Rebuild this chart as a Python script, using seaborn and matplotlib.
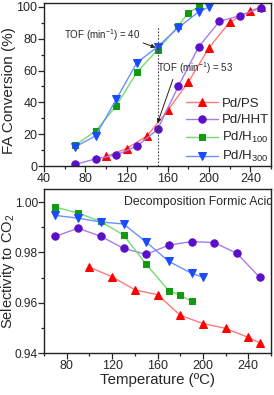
import pandas as pd
import seaborn as sns
import matplotlib.pyplot as plt
from matplotlib.ticker import MultipleLocator

# --- FA conversion (%) vs temperature ---
conv_ps_t = [100, 120, 140, 160, 180, 200, 220, 240, 250]
conv_ps = [6, 11, 19, 35, 53, 74.5, 90.5, 97.5, 100]
conv_hht_t = [70, 90, 110, 130, 150, 170, 190, 210, 230, 250]
conv_hht = [1, 4.5, 7, 12.5, 23, 50, 75, 91, 94.5, 99.5]
conv_h100_t = [70, 90, 110, 130, 150, 170, 180, 190]
conv_h100 = [13, 22, 38, 59, 73, 88, 96.5, 100]
conv_h300_t = [70, 90, 110, 130, 150, 170, 190, 200]
conv_h300 = [12, 19, 42, 65, 75, 87, 97, 100]

# --- selectivity to CO2 vs temperature ---
sel_ps_t = [100, 120, 140, 160, 180, 200, 220, 240, 250]
sel_ps = [0.9741, 0.9703, 0.9651, 0.9632, 0.9550, 0.9517, 0.9498, 0.9462, 0.9441]
sel_hht_t = [70, 90, 110, 130, 150, 170, 190, 210, 230, 250]
sel_hht = [0.9864, 0.9896, 0.9864, 0.9816, 0.9792, 0.9829, 0.9843, 0.9839, 0.9796, 0.9701]
sel_h100_t = [70, 90, 110, 130, 150, 170, 180, 190]
sel_h100 = [0.9980, 0.9956, 0.9923, 0.9869, 0.9753, 0.9647, 0.9630, 0.9605]
sel_h300_t = [70, 90, 110, 130, 150, 170, 190, 200]
sel_h300 = [0.9947, 0.9936, 0.9921, 0.9913, 0.9841, 0.9764, 0.9717, 0.9701]

labels = ['Pd/PS', 'Pd/HHT', 'Pd/H$_{100}$', 'Pd/H$_{300}$']
markers = ['^', 'o', 's', 'v']
mark_sizes = [6, 5.3, 5, 6]
mark_colors = ['#FF0000', '#5A0FC8', '#109A10', '#1A4BFF']
line_colors = ['#FF7A7A', '#A57CF0', '#70DD70', '#6E8FFF']

conv = [(conv_ps_t, conv_ps), (conv_hht_t, conv_hht), (conv_h100_t, conv_h100), (conv_h300_t, conv_h300)]
sel = [(sel_ps_t, sel_ps), (sel_hht_t, sel_hht), (sel_h100_t, sel_h100), (sel_h300_t, sel_h300)]

sns.set_style('ticks')
plt.rcParams['font.family'] = ['Liberation Sans', 'DejaVu Sans']
plt.rcParams['mathtext.fontset'] = 'custom'
plt.rcParams['mathtext.rm'] = 'Liberation Sans'
plt.rcParams['axes.edgecolor'] = '#222222'
plt.rcParams['axes.linewidth'] = 1.0

fig = plt.figure(figsize=(2.74, 3.95), dpi=100)
ax1 = fig.add_axes([0.161, 0.5797, 0.828, 0.4127])
ax2 = fig.add_axes([0.161, 0.1063, 0.828, 0.4152])


def draw(ax, series):
    for (t, v), lab, m, ms, mc, lc in zip(series, labels, markers, mark_sizes,
                                          mark_colors, line_colors):
        df = pd.DataFrame({'T': t, 'v': v})
        sns.lineplot(data=df, x='T', y='v', ax=ax, color=lc, lw=1.0, marker=m,
                     markersize=ms, markerfacecolor=mc, markeredgecolor=mc,
                     label=lab, sort=False)


draw(ax1, conv)
draw(ax2, sel)

for ax in (ax1, ax2):
    for s in ax.spines.values():
        s.set_visible(True)
    ax.tick_params(direction='out', which='both', length=4, width=0.9, labelsize=9,
                   pad=0.8, top=False, right=False)
    ax.tick_params(which='minor', length=2.5)
    ax.set_xlabel('')
    ax.set_ylabel('')
ax2.tick_params(axis='y', labelsize=8.6, pad=0.5)

# top panel
ax1.set_xlim(40, 260)
ax1.set_ylim(0, 102.5)
ax1.xaxis.set_major_locator(MultipleLocator(40))
ax1.xaxis.set_minor_locator(MultipleLocator(20))
ax1.yaxis.set_major_locator(MultipleLocator(20))
ax1.yaxis.set_minor_locator(MultipleLocator(10))
ax1.set_ylabel('FA Conversion (%)', fontsize=11)
ax1.yaxis.set_label_coords(-0.124, 0.46)
ax1.axvline(150, ymin=0, ymax=0.85, color='#444444', lw=0.8, ls=(0, (1.5, 1.5)))
ax1.annotate('TOF (min$^{-1}$) = 40', xy=(148, 74.5), xytext=(59, 82.5),
             fontsize=7, va='center',
             arrowprops=dict(arrowstyle='-|>', color='#222222', lw=0.7,
                             mutation_scale=6, shrinkA=0, shrinkB=0,
                             relpos=(0.98, 0.1)))
ax1.annotate('TOF (min$^{-1}$) = 53', xy=(150, 27), xytext=(149, 61.5),
             fontsize=7, va='center',
             arrowprops=dict(arrowstyle='-|>', color='#222222', lw=0.7,
                             mutation_scale=6, shrinkA=0, shrinkB=0,
                             relpos=(0.23, 0.0)))
ax1.legend(loc='lower right', frameon=False, fontsize=9.5, handlelength=2.4,
           handletextpad=0.3, labelspacing=0.3, borderaxespad=0.1,
           bbox_to_anchor=(1.02, -0.03))

# bottom panel
ax2.set_xlim(60, 260)
ax2.set_ylim(0.94, 1.0052)
ax2.xaxis.set_major_locator(MultipleLocator(40))
ax2.xaxis.set_minor_locator(MultipleLocator(20))
ax2.yaxis.set_major_locator(MultipleLocator(0.02))
ax2.yaxis.set_minor_locator(MultipleLocator(0.01))
ax2.yaxis.set_major_formatter(plt.FormatStrFormatter('%.2f'))
ax2.set_ylabel('Selectivity to CO$_2$', fontsize=10.5)
ax2.yaxis.set_label_coords(-0.118, 0.5)
ax2.set_xlabel('Temperature (\u00baC)', fontsize=10.8, labelpad=1)
ax2.text(130, 1.0, 'Decomposition Formic Acid', fontsize=8.8, va='center', ha='left',
         clip_on=True)
ax2.get_legend().remove()

fig.savefig('out.png', dpi=100)
